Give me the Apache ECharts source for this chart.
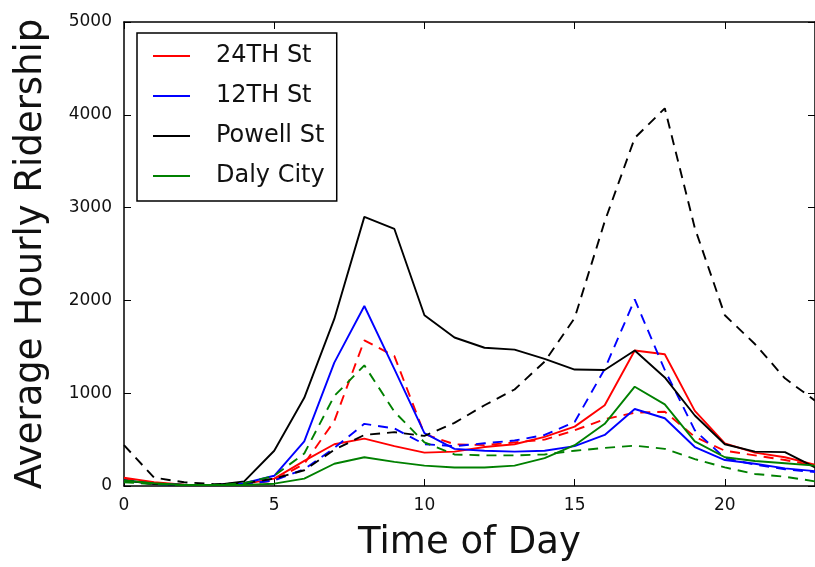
<!DOCTYPE html>
<html>
<head>
<meta charset="utf-8">
<script src="https://cdn.jsdelivr.net/npm/echarts@6/dist/echarts.min.js"></script>
<style>
  html, body { margin: 0; padding: 0; background: #fff; }
  #chart { width: 815px; height: 567px; }
</style>
</head>
<body>
<div id="chart"></div>
<script>
// Hour of day (x) and average hourly ridership per station (y)
const hours = [0, 1, 2, 3, 4, 5, 6, 7, 8, 9, 10, 11, 12, 13, 14, 15, 16, 17, 18, 19, 20, 21, 22, 23];

const st24Solid   = [90, 40, 15, 10, 20, 80, 270, 450, 510, 430, 360, 370, 420, 450, 530, 640, 870, 1460, 1420, 810, 460, 360, 310, 230];
const st24Dashed  = [80, 30, 10, 10, 15, 60, 240, 700, 1570, 1400, 560, 450, 440, 470, 500, 600, 720, 790, 800, 530, 380, 330, 280, 220];
const st12Solid   = [60, 25, 10, 10, 30, 110, 480, 1330, 1940, 1260, 570, 400, 380, 370, 380, 430, 550, 830, 730, 420, 280, 240, 190, 160];
const st12Dashed  = [60, 20, 10, 10, 20, 60, 180, 410, 670, 620, 450, 430, 460, 490, 550, 690, 1260, 2010, 1250, 600, 300, 230, 180, 150];
const powellSolid = [60, 20, 10, 10, 50, 380, 950, 1800, 2900, 2770, 1840, 1600, 1490, 1470, 1370, 1255, 1250, 1460, 1170, 760, 450, 370, 365, 200];
const powellDashed = [440, 90, 40, 20, 30, 80, 170, 390, 550, 580, 540, 680, 870, 1040, 1340, 1810, 2850, 3750, 4070, 2780, 1840, 1530, 1160, 920];
const dalySolid   = [60, 30, 10, 10, 10, 25, 80, 240, 310, 260, 220, 200, 200, 220, 300, 440, 670, 1070, 880, 480, 310, 270, 245, 220];
const dalyDashed  = [40, 20, 10, 10, 30, 110, 350, 970, 1300, 800, 470, 340, 330, 330, 340, 380, 410, 435, 400, 290, 200, 130, 100, 50];

const stationNames = ['24TH St', '12TH St', 'Powell St', 'Daly City'];
const stationColors = ['#ff0000', '#0000ff', '#000000', '#008000'];
const solidValues = [st24Solid, st12Solid, powellSolid, dalySolid];
const dashedValues = [st24Dashed, st12Dashed, powellDashed, dalyDashed];

const FONT = 'DejaVu Sans';

function toPoints(values) {
  return hours.map((h, i) => [h, values[i]]);
}

const series = [];
stationNames.forEach((name, i) => {
  series.push({
    type: 'line',
    name: name,
    data: toPoints(solidValues[i]),
    color: stationColors[i],
    symbol: 'none',
    lineStyle: { color: stationColors[i], width: 1.9 },
    z: 2 + i
  });
  series.push({
    type: 'line',
    name: name + ' dashed',
    data: toPoints(dashedValues[i]),
    color: stationColors[i],
    symbol: 'none',
    lineStyle: { color: stationColors[i], width: 1.9, type: [10, 7] },
    z: 2 + i
  });
});

const spine = { show: true, onZero: false, lineStyle: { color: '#000', width: 1.5 } };
const innerTick = { show: true, inside: true, length: 7, lineStyle: { color: '#000', width: 1 } };
const plainNumber = v => String(v);

const option = {
  animation: false,
  backgroundColor: '#fff',
  grid: { left: 124, right: -7, top: 22, bottom: 79, containLabel: false },
  legend: {
    data: stationNames,
    orient: 'vertical',
    left: 137,
    top: 33,
    padding: [11, 12, 13, 16],
    itemGap: 16,
    itemWidth: 37,
    itemHeight: 2,
    icon: 'rect',
    selectedMode: false,
    borderColor: '#000',
    borderWidth: 1.5,
    backgroundColor: '#fff',
    textStyle: { fontFamily: FONT, fontSize: 24, color: '#111', lineHeight: 24, padding: [0, 0, 0, 21] }
  },
  xAxis: [
    {
      type: 'value', min: 0, max: 23, interval: 5, position: 'bottom',
      axisLine: spine, axisTick: innerTick,
      axisLabel: { fontFamily: FONT, fontSize: 17, color: '#111', margin: 11, showMaxLabel: false, formatter: plainNumber },
      splitLine: { show: false },
      name: 'Time of Day', nameLocation: 'middle', nameGap: 39,
      nameTextStyle: { fontFamily: FONT, fontSize: 37, color: '#111' }
    },
    {
      type: 'value', min: 0, max: 23, interval: 5, position: 'top',
      axisLine: spine, axisTick: innerTick,
      axisLabel: { show: false }, splitLine: { show: false }
    }
  ],
  yAxis: [
    {
      type: 'value', min: 0, max: 5000, interval: 1000, position: 'left',
      axisLine: spine, axisTick: innerTick,
      axisLabel: { fontFamily: FONT, fontSize: 17, color: '#111', margin: 12, formatter: plainNumber },
      splitLine: { show: false },
      name: 'Average Hourly Ridership', nameLocation: 'middle', nameGap: 74, nameRotate: 90,
      nameTextStyle: { fontFamily: FONT, fontSize: 37, color: '#111' }
    },
    {
      type: 'value', min: 0, max: 5000, interval: 1000, position: 'right',
      axisLine: spine, axisTick: innerTick,
      axisLabel: { show: false }, splitLine: { show: false }
    }
  ],
  series: series
};

const chart = echarts.init(document.getElementById('chart'), null, { renderer: 'canvas' });
chart.setOption(option);
</script>
</body>
</html>
